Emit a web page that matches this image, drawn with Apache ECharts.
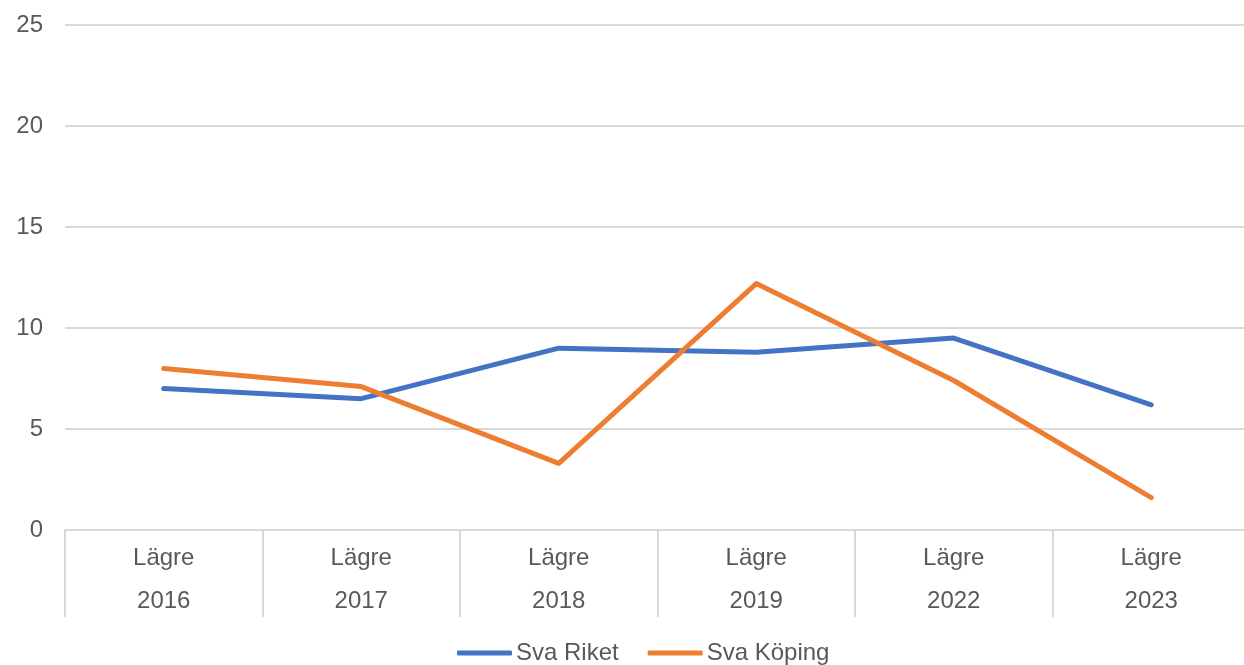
<!DOCTYPE html>
<html>
<head>
<meta charset="utf-8">
<script src="https://cdn.jsdelivr.net/npm/echarts@6/dist/echarts.min.js"></script>
<style>
  html, body { margin: 0; padding: 0; background: #ffffff; }
  #chart { width: 1244px; height: 665px; }
</style>
</head>
<body>
<div id="chart"></div>
<script>
// Two-level category labels: level and year
const levels = ['Lägre', 'Lägre', 'Lägre', 'Lägre', 'Lägre', 'Lägre'];
const years = ['2016', '2017', '2018', '2019', '2022', '2023'];

const svaRiket = [7.0, 6.5, 9.0, 8.8, 9.5, 6.2];
const svaKoping = [8.0, 7.1, 3.3, 12.2, 7.4, 1.6];

const categories = years.map((y, i) => levels[i] + '\n' + y);

const textColor = '#595959';
const gridColor = '#d9d9d9';
const fontFamily = '"Liberation Sans", Arial, sans-serif';

const chart = echarts.init(document.getElementById('chart'), null, { renderer: 'canvas' });

chart.setOption({
  animation: false,
  backgroundColor: '#ffffff',
  textStyle: { fontFamily: fontFamily },
  // plot area runs slightly past the right edge of the canvas
  grid: {
    left: 65, width: 1185, top: 25, height: 505,
    containLabel: false,
    outerBoundsMode: 'none'
  },
  legend: {
    top: 636,
    left: 452,
    itemWidth: 55,
    itemHeight: 5,
    itemGap: 29,
    icon: 'roundRect',
    textStyle: { color: textColor, fontSize: 24, fontFamily: fontFamily, padding: [0, 0, 0, -1] },
    data: ['Sva Riket', 'Sva Köping']
  },
  xAxis: {
    type: 'category',
    data: categories,
    boundaryGap: true,
    axisLine: { show: true, lineStyle: { color: gridColor, width: 2 } },
    axisTick: { show: true, interval: 0, length: 87, lineStyle: { color: gridColor, width: 2 } },
    axisLabel: {
      interval: 0,
      margin: 7,
      color: textColor,
      fontSize: 24,
      lineHeight: 43,
      fontFamily: fontFamily
    }
  },
  yAxis: {
    type: 'value',
    min: 0,
    max: 25,
    interval: 5,
    axisLine: { show: false },
    axisTick: { show: false },
    axisLabel: { color: textColor, fontSize: 24, margin: 22, fontFamily: fontFamily },
    splitLine: { show: true, lineStyle: { color: gridColor, width: 2 } }
  },
  series: [
    {
      name: 'Sva Riket',
      type: 'line',
      data: svaRiket,
      symbol: 'none',
      lineStyle: { color: '#4472C4', width: 5, cap: 'round', join: 'round' },
      itemStyle: { color: '#4472C4' }
    },
    {
      name: 'Sva Köping',
      type: 'line',
      data: svaKoping,
      symbol: 'none',
      lineStyle: { color: '#ED7D31', width: 5, cap: 'round', join: 'round' },
      itemStyle: { color: '#ED7D31' }
    }
  ]
});
</script>
</body>
</html>
